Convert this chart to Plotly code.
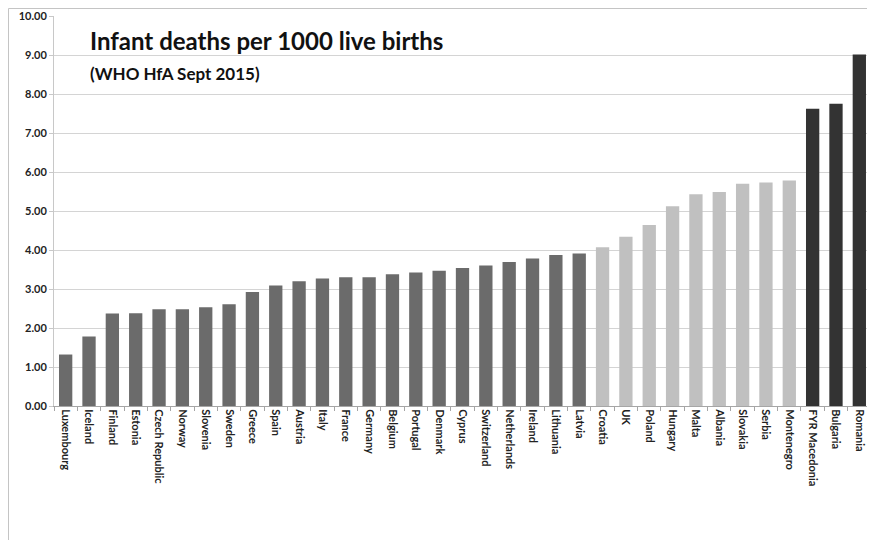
import plotly.graph_objects as go

countries = ["Luxembourg", "Iceland", "Finland", "Estonia", "Czech Republic", "Norway",
             "Slovenia", "Sweden", "Greece", "Spain", "Austria", "Italy", "France",
             "Germany", "Belgium", "Portugal", "Denmark", "Cyprus", "Switzerland",
             "Netherlands", "Ireland", "Lithuania", "Latvia", "Croatia", "UK", "Poland",
             "Hungary", "Malta", "Albania", "Slovakia", "Serbia", "Montenegro",
             "FYR Macedonia", "Bulgaria", "Romania"]
rates = [1.32, 1.78, 2.37, 2.38, 2.48, 2.48, 2.53, 2.61, 2.92, 3.09, 3.20, 3.27, 3.30,
         3.30, 3.38, 3.42, 3.47, 3.54, 3.60, 3.69, 3.78, 3.87, 3.91, 4.07, 4.34, 4.64,
         5.12, 5.43, 5.49, 5.70, 5.73, 5.78, 7.62, 7.75, 9.01]
groups = ["low"] * 23 + ["mid"] * 9 + ["high"] * 3
group_colors = {"low": "#6b6b6b", "mid": "#c0c0c0", "high": "#333333"}
y_ticks = [0, 1, 2, 3, 4, 5, 6, 7, 8, 9, 10]

FONT = "Lato"
L, R, T, B = 46, 4, 8, 134
W, H = 867, 532  # page body adds an 8px margin
PW, PH = W - L - R, H - T - B

fig = go.Figure(go.Bar(
    x=countries, y=rates,
    marker=dict(color=[group_colors[g] for g in groups], line=dict(width=0)),
))

fig.update_layout(
    width=W, height=H,
    margin=dict(l=L, r=R, t=T, b=B),
    paper_bgcolor="white", plot_bgcolor="white",
    bargap=0.43, showlegend=False,
    font=dict(family=FONT, color="#222222"),
)
fig.update_xaxes(
    type="category", tickangle=90, automargin=False,
    tickfont=dict(family=FONT, size=11, weight="bold", color="#222222"),
    showline=True, linecolor="#a6a6a6", linewidth=1,
    ticks="outside", tickson="boundaries", ticklen=4, tickcolor="#a6a6a6",
    showgrid=False,
)
fig.update_yaxes(
    range=[0, 10], tickvals=y_ticks, tickformat=".2f", automargin=False,
    tickfont=dict(family=FONT, size=11, weight="bold", color="#222222"),
    showgrid=True, gridcolor="#d4d4d4", gridwidth=1.3,
    showline=True, linecolor="#c8c8c8", linewidth=1,
    ticks="outside", ticklen=4, tickcolor="#c8c8c8",
    zeroline=False,
)
fig.add_annotation(text="Infant deaths per 1000 live births", xref="paper", yref="paper",
                   x=(88 - 8 - L) / PW, y=0.937, xanchor="left", yanchor="middle", showarrow=False,
                   font=dict(family=FONT, size=24, weight="bold", color="#111111"))
fig.add_annotation(text="(WHO HfA Sept 2015)", xref="paper", yref="paper",
                   x=(88 - 8 - L) / PW, y=0.853, xanchor="left", yanchor="middle", showarrow=False,
                   font=dict(family=FONT, size=17, weight="bold", color="#111111"))
# outer chart frame (left and top edges visible)
fx = -(L - 0.5) / PW
fy = 1 + (T - 0.5) / PH
fig.add_shape(type="line", xref="paper", yref="paper", x0=fx, x1=fx, y0=-0.5, y1=fy,
              line=dict(color="#c4c4c4", width=1))
fig.add_shape(type="line", xref="paper", yref="paper", x0=fx, x1=1.1, y0=fy, y1=fy,
              line=dict(color="#c4c4c4", width=1))

fig.write_html("out.html")
